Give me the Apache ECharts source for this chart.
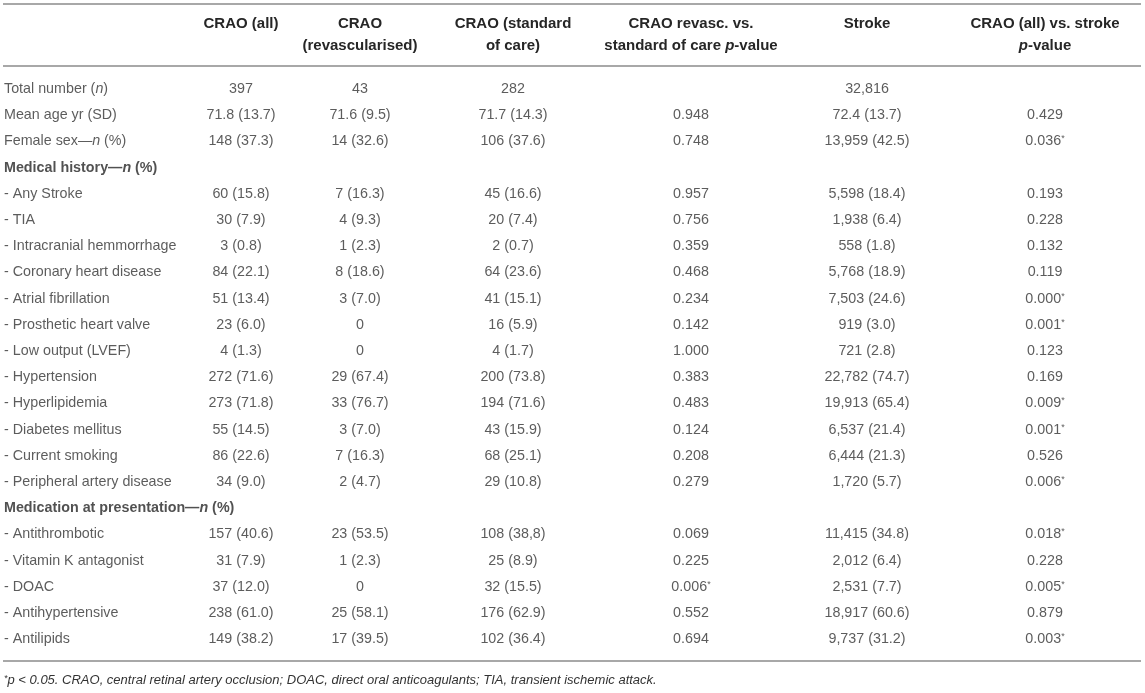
<!DOCTYPE html>
<html>
<head>
<meta charset="utf-8">
<script src="https://cdn.jsdelivr.net/npm/echarts@6/dist/echarts.min.js"></script>
<style>html,body{margin:0;padding:0;background:#fff;}#c{width:1145px;height:693px;}</style>
</head>
<body>
<div id="c"></div>
<script>
// ---------- data ----------
const headers = ['', 'CRAO (all)', 'CRAO\n(revascularised)', 'CRAO (standard\nof care)', 'CRAO revasc. vs.\nstandard of care p-value', 'Stroke', 'CRAO (all) vs. stroke\np-value'];
const rowLabels = [
  'Total number (n)', 'Mean age yr (SD)', 'Female sex—n (%)', 'Medical history—n (%)',
  '- Any Stroke', '- TIA', '- Intracranial hemmorrhage', '- Coronary heart disease',
  '- Atrial fibrillation', '- Prosthetic heart valve', '- Low output (LVEF)', '- Hypertension',
  '- Hyperlipidemia', '- Diabetes mellitus', '- Current smoking', '- Peripheral artery disease',
  'Medication at presentation—n (%)', '- Antithrombotic', '- Vitamin K antagonist', '- DOAC',
  '- Antihypertensive', '- Antilipids'
];
const sectionRows = ['Medical history—n (%)', 'Medication at presentation—n (%)'];
const craoAll = ['397','71.8 (13.7)','148 (37.3)','','60 (15.8)','30 (7.9)','3 (0.8)','84 (22.1)','51 (13.4)','23 (6.0)','4 (1.3)','272 (71.6)','273 (71.8)','55 (14.5)','86 (22.6)','34 (9.0)','','157 (40.6)','31 (7.9)','37 (12.0)','238 (61.0)','149 (38.2)'];
const craoRevasc = ['43','71.6 (9.5)','14 (32.6)','','7 (16.3)','4 (9.3)','1 (2.3)','8 (18.6)','3 (7.0)','0','0','29 (67.4)','33 (76.7)','3 (7.0)','7 (16.3)','2 (4.7)','','23 (53.5)','1 (2.3)','0','25 (58.1)','17 (39.5)'];
const craoSoc = ['282','71.7 (14.3)','106 (37.6)','','45 (16.6)','20 (7.4)','2 (0.7)','64 (23.6)','41 (15.1)','16 (5.9)','4 (1.7)','200 (73.8)','194 (71.6)','43 (15.9)','68 (25.1)','29 (10.8)','','108 (38,8)','25 (8.9)','32 (15.5)','176 (62.9)','102 (36.4)'];
const pRevasc = ['','0.948','0.748','','0.957','0.756','0.359','0.468','0.234','0.142','1.000','0.383','0.483','0.124','0.208','0.279','','0.069','0.225','0.006*','0.552','0.694'];
const stroke = ['32,816','72.4 (13.7)','13,959 (42.5)','','5,598 (18.4)','1,938 (6.4)','558 (1.8)','5,768 (18.9)','7,503 (24.6)','919 (3.0)','721 (2.8)','22,782 (74.7)','19,913 (65.4)','6,537 (21.4)','6,444 (21.3)','1,720 (5.7)','','11,415 (34.8)','2,012 (6.4)','2,531 (7.7)','18,917 (60.6)','9,737 (31.2)'];
const pStroke = ['','0.429','0.036*','','0.193','0.228','0.132','0.119','0.000*','0.001*','0.123','0.169','0.009*','0.001*','0.526','0.006*','','0.018*','0.228','0.005*','0.879','0.003*'];
const footnote = '*p < 0.05. CRAO, central retinal artery occlusion; DOAC, direct oral anticoagulants; TIA, transient ischemic attack.';

// ---------- layout / style ----------
const columns = [rowLabels, craoAll, craoRevasc, craoSoc, pRevasc, stroke, pStroke];
const colCenters = [null, 241, 360, 513, 691, 867, 1045];
const rowH = 26.2, gridTop = 76;
const FONT = '"Liberation Sans", Arial, Helvetica, sans-serif';
const TXT = '#333';
const HEAD = '#262626';
const RULE = '#a8a8a8';
const BODY_FS = 14.3, HEAD_FS = 15;

function markup(s, bold) {
  const it = bold ? 'bi' : 'it';
  return s
    .replace(/—n/g, '—{' + it + '|n}')
    .replace(/\(n\)/g, '({' + it + '|n})')
    .replace(/(^|\s)p-value/gm, '$1{' + it + '|p}-value')
    .replace(/\*/g, '{sup|*}');
}
const richStyles = {
  it: {fontStyle: 'italic', fontFamily: FONT, fontSize: BODY_FS, color: TXT},
  bi: {fontStyle: 'italic', fontWeight: 'bold', fontFamily: FONT, fontSize: BODY_FS, color: HEAD},
  sup: {fontSize: 9, fontFamily: FONT, color: TXT, verticalAlign: 'top'}
};

const grids = [], xAxes = [], yAxes = [], series = [];
columns.forEach((col, k) => {
  const isLabel = k === 0;
  grids.push(isLabel
    ? {left: 4, width: 220, top: gridTop, height: rowH * rowLabels.length}
    : {left: colCenters[k] - 75, width: 150, top: gridTop, height: rowH * rowLabels.length});
  xAxes.push({
    gridIndex: k, type: 'value', min: isLabel ? 0 : -1, max: 1, position: 'top',
    axisLine: {show: false}, axisTick: {show: false}, splitLine: {show: false},
    axisLabel: {show: false}
  });
  yAxes.push({
    gridIndex: k, type: 'category', data: rowLabels, inverse: true, show: false
  });
  series.push({
    type: 'scatter', xAxisIndex: k, yAxisIndex: k, silent: true,
    symbolSize: 1, itemStyle: {color: 'rgba(0,0,0,0)'},
    data: col.map((v, i) => [0, i]),
    label: {
      show: true, position: 'inside', align: isLabel ? 'left' : 'center', verticalAlign: 'middle',
      fontFamily: FONT, fontSize: BODY_FS, color: TXT,
      formatter: p => {
        const s = col[p.dataIndex];
        if (!s) return '';
        const bold = isLabel && sectionRows.indexOf(s) >= 0;
        const m = markup(s, bold);
        return bold ? '{b|' + m.replace(/\{bi\|n\}/g, '}{bi|n}{b|') + '}' : m;
      },
      rich: Object.assign({b: {fontWeight: 'bold', fontFamily: FONT, fontSize: BODY_FS, color: HEAD}}, richStyles)
    }
  });
  // header via a top x-axis name
  if (!isLabel) {
    xAxes[k].name = markup(headers[k], true);
    xAxes[k].nameLocation = 'middle';
    xAxes[k].nameGap = gridTop - 13;
    xAxes[k].nameTextStyle = {
      fontFamily: FONT, fontSize: HEAD_FS, fontWeight: 'bold', color: HEAD, lineHeight: 22,
      verticalAlign: 'top', align: 'center',
      rich: {bi: {fontStyle: 'italic', fontWeight: 'bold', fontFamily: FONT, fontSize: HEAD_FS, color: HEAD, lineHeight: 22}}
    };
  }
});

const chart = echarts.init(document.getElementById('c'), null, {renderer: 'canvas'});
chart.setOption({
  animation: false,
  backgroundColor: '#fff',
  grid: grids, xAxis: xAxes, yAxis: yAxes, series: series,
  title: {
    text: markup(footnote, false).replace(/^\{sup\|\*\}/, '{sup|*}{f|') + '}',
    left: 4, top: 674, padding: 0,
    textStyle: {
      fontFamily: FONT, fontSize: 13, fontStyle: 'italic', fontWeight: 'normal', color: TXT,
      rich: {
        f: {fontFamily: FONT, fontSize: 13, fontStyle: 'italic', color: TXT},
        sup: {fontFamily: FONT, fontSize: 9, fontStyle: 'italic', color: TXT, verticalAlign: 'top'}
      }
    }
  },
  graphic: [
    {type: 'line', shape: {x1: 3, y1: 4, x2: 1141, y2: 4}, style: {stroke: RULE, lineWidth: 2}, silent: true},
    {type: 'line', shape: {x1: 3, y1: 66, x2: 1141, y2: 66}, style: {stroke: RULE, lineWidth: 2}, silent: true},
    {type: 'line', shape: {x1: 3, y1: 661, x2: 1141, y2: 661}, style: {stroke: RULE, lineWidth: 2}, silent: true}
  ]
});
</script>
</body>
</html>
